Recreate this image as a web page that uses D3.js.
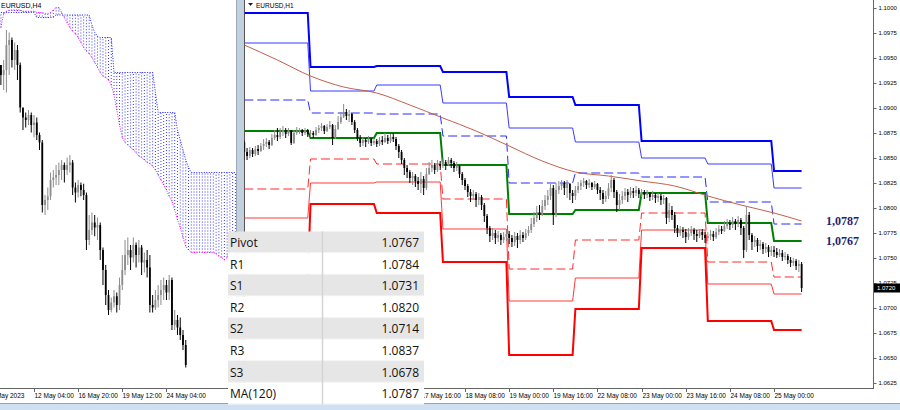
<!DOCTYPE html>
<html>
<head>
<meta charset="utf-8">
<script src="https://cdn.jsdelivr.net/npm/d3@7"></script>
<style>
body { margin: 0; background: #fff; }
svg { display: block; }
</style>
</head>
<body>
<script>
// ---------- H1 chart (right) ----------
var priceTicks = [1.1000, 1.0975, 1.0950, 1.0925, 1.0900, 1.0875, 1.0850, 1.0825,
    1.0800, 1.0775, 1.0750, 1.0725, 1.0700, 1.0675, 1.0650, 1.0625];
var h1TickBars = [64, 80, 96, 112, 128, 144, 160, 176, 192];
var h1TickLabels = ['17 May 16:00', '18 May 08:00', '19 May 00:00', '19 May 16:00', '22 May 08:00',
    '23 May 00:00', '23 May 16:00', '24 May 08:00', '25 May 00:00'];

var h1FirstOpen = 1.0866;
var h1Close = [
    1.0856, 1.0852, 1.0858, 1.0854, 1.0859, 1.0857, 1.0862, 1.0864, 1.0866, 1.0863, 1.0870, 1.0873, 1.0871, 1.0876, 1.0878, 1.0874, 1.0877, 1.0865, 1.0875, 1.0877, 1.0878, 1.0875, 1.0878, 1.0874,
    1.0875, 1.0873, 1.0878, 1.0880, 1.0882, 1.0877, 1.0881, 1.0883, 1.0870, 1.0879, 1.0886, 1.0891, 1.0896, 1.0892, 1.0894, 1.0886, 1.0878, 1.0870, 1.0865, 1.0868, 1.0866, 1.0869, 1.0865, 1.0867,
    1.0864, 1.0868, 1.0866, 1.0870, 1.0867, 1.0871, 1.0869, 1.0862, 1.0856, 1.0848, 1.0840, 1.0836, 1.0830, 1.0832, 1.0827, 1.0824, 1.0829, 1.0820, 1.0834, 1.0840, 1.0843, 1.0838, 1.0844, 1.0842,
    1.0846, 1.0843, 1.0848, 1.0845, 1.0840, 1.0842, 1.0834, 1.0828, 1.0822, 1.0816, 1.0812, 1.0814, 1.0808, 1.0811, 1.0803, 1.0792, 1.0780, 1.0772, 1.0775, 1.0770, 1.0773, 1.0768, 1.0771, 1.0774,
    1.0770, 1.0766, 1.0772, 1.0768, 1.0773, 1.0770, 1.0775, 1.0778, 1.0784, 1.0790, 1.0796, 1.0793, 1.0802, 1.0808, 1.0812, 1.0820, 1.0793, 1.0818, 1.0822, 1.0825, 1.0820, 1.0824, 1.0815, 1.0812,
    1.0818, 1.0822, 1.0825, 1.0827, 1.0823, 1.0825, 1.0821, 1.0824, 1.0818, 1.0815, 1.0809, 1.0812, 1.0820, 1.0828, 1.0816, 1.0803, 1.0808, 1.0812, 1.0816, 1.0813, 1.0817, 1.0815, 1.0818, 1.0814,
    1.0816, 1.0813, 1.0815, 1.0811, 1.0813, 1.0810, 1.0812, 1.0808, 1.0810, 1.0790, 1.0798, 1.0793, 1.0780, 1.0775, 1.0778, 1.0776, 1.0771, 1.0775, 1.0778, 1.0774, 1.0772, 1.0776, 1.0773, 1.0770,
    1.0772, 1.0774, 1.0771, 1.0776, 1.0779, 1.0777, 1.0782, 1.0785, 1.0783, 1.0787, 1.0784, 1.0788, 1.0780, 1.0758, 1.0793, 1.0773, 1.0766, 1.0768, 1.0762, 1.0764, 1.0759, 1.0761, 1.0756, 1.0758,
    1.0756, 1.0753, 1.0755, 1.0751, 1.0752, 1.0748, 1.0745, 1.0747, 1.0742, 1.0744, 1.0720
];
var h1High = [
    1.0868, 1.0860, 1.0861, 1.0860, 1.0862, 1.0863, 1.0865, 1.0869, 1.0870, 1.0868, 1.0874, 1.0878, 1.0880, 1.0880, 1.0882, 1.0880, 1.0880, 1.0878, 1.0878, 1.0881, 1.0880, 1.0879, 1.0880, 1.0879,
    1.0878, 1.0877, 1.0881, 1.0883, 1.0885, 1.0883, 1.0884, 1.0887, 1.0884, 1.0883, 1.0892, 1.0896, 1.0904, 1.0899, 1.0898, 1.0895, 1.0888, 1.0880, 1.0873, 1.0871, 1.0870, 1.0872, 1.0870, 1.0870,
    1.0869, 1.0871, 1.0872, 1.0875, 1.0873, 1.0874, 1.0875, 1.0871, 1.0864, 1.0858, 1.0850, 1.0843, 1.0838, 1.0836, 1.0834, 1.0831, 1.0836, 1.0832, 1.0840, 1.0846, 1.0848, 1.0845, 1.0848, 1.0847,
    1.0850, 1.0848, 1.0851, 1.0850, 1.0847, 1.0846, 1.0843, 1.0836, 1.0830, 1.0824, 1.0819, 1.0818, 1.0816, 1.0815, 1.0813, 1.0805, 1.0794, 1.0782, 1.0780, 1.0778, 1.0777, 1.0775, 1.0776, 1.0778,
    1.0777, 1.0773, 1.0776, 1.0775, 1.0778, 1.0776, 1.0779, 1.0782, 1.0790, 1.0796, 1.0802, 1.0803, 1.0808, 1.0813, 1.0818, 1.0824, 1.0823, 1.0825, 1.0827, 1.0828, 1.0827, 1.0828, 1.0825, 1.0818,
    1.0822, 1.0826, 1.0828, 1.0830, 1.0828, 1.0829, 1.0826, 1.0827, 1.0825, 1.0821, 1.0818, 1.0817, 1.0825, 1.0833, 1.0830, 1.0818, 1.0814, 1.0817, 1.0820, 1.0819, 1.0821, 1.0820, 1.0822, 1.0820,
    1.0819, 1.0818, 1.0818, 1.0816, 1.0817, 1.0815, 1.0815, 1.0814, 1.0813, 1.0811, 1.0805, 1.0802, 1.0796, 1.0783, 1.0782, 1.0781, 1.0779, 1.0780, 1.0782, 1.0780, 1.0778, 1.0779, 1.0779, 1.0776,
    1.0776, 1.0778, 1.0777, 1.0780, 1.0783, 1.0782, 1.0787, 1.0789, 1.0788, 1.0791, 1.0789, 1.0792, 1.0790, 1.0782, 1.0802, 1.0796, 1.0775, 1.0772, 1.0770, 1.0768, 1.0766, 1.0765, 1.0763, 1.0762,
    1.0762, 1.0760, 1.0759, 1.0758, 1.0756, 1.0754, 1.0751, 1.0750, 1.0749, 1.0748, 1.0746
];
var h1Low = [
    1.0848, 1.0848, 1.0850, 1.0851, 1.0852, 1.0853, 1.0856, 1.0858, 1.0861, 1.0859, 1.0862, 1.0868, 1.0867, 1.0869, 1.0872, 1.0870, 1.0872, 1.0863, 1.0864, 1.0873, 1.0874, 1.0872, 1.0873, 1.0871,
    1.0871, 1.0870, 1.0872, 1.0875, 1.0877, 1.0874, 1.0876, 1.0879, 1.0863, 1.0869, 1.0878, 1.0884, 1.0890, 1.0888, 1.0886, 1.0883, 1.0875, 1.0867, 1.0861, 1.0862, 1.0861, 1.0864, 1.0862, 1.0863,
    1.0861, 1.0862, 1.0863, 1.0865, 1.0864, 1.0865, 1.0866, 1.0858, 1.0850, 1.0844, 1.0833, 1.0830, 1.0825, 1.0823, 1.0821, 1.0818, 1.0815, 1.0813, 1.0818, 1.0833, 1.0836, 1.0834, 1.0836, 1.0838,
    1.0840, 1.0838, 1.0842, 1.0840, 1.0836, 1.0837, 1.0830, 1.0823, 1.0818, 1.0811, 1.0806, 1.0808, 1.0801, 1.0803, 1.0798, 1.0786, 1.0774, 1.0766, 1.0768, 1.0764, 1.0766, 1.0763, 1.0765, 1.0767,
    1.0764, 1.0761, 1.0762, 1.0760, 1.0764, 1.0766, 1.0768, 1.0772, 1.0775, 1.0781, 1.0786, 1.0788, 1.0792, 1.0798, 1.0803, 1.0808, 1.0783, 1.0791, 1.0814, 1.0818, 1.0813, 1.0810, 1.0808, 1.0805,
    1.0808, 1.0815, 1.0818, 1.0821, 1.0819, 1.0820, 1.0818, 1.0819, 1.0814, 1.0808, 1.0804, 1.0806, 1.0809, 1.0816, 1.0810, 1.0796, 1.0798, 1.0804, 1.0808, 1.0806, 1.0810, 1.0810, 1.0812, 1.0810,
    1.0811, 1.0809, 1.0810, 1.0807, 1.0808, 1.0805, 1.0806, 1.0803, 1.0804, 1.0784, 1.0786, 1.0788, 1.0775, 1.0771, 1.0772, 1.0770, 1.0765, 1.0768, 1.0772, 1.0768, 1.0766, 1.0770, 1.0768, 1.0765,
    1.0767, 1.0768, 1.0767, 1.0769, 1.0773, 1.0774, 1.0776, 1.0779, 1.0778, 1.0780, 1.0778, 1.0781, 1.0773, 1.0750, 1.0756, 1.0768, 1.0758, 1.0761, 1.0756, 1.0758, 1.0754, 1.0755, 1.0751, 1.0752,
    1.0751, 1.0750, 1.0751, 1.0747, 1.0748, 1.0744, 1.0741, 1.0742, 1.0738, 1.0736, 1.0716
];

// daily pivot levels, one value per trading day (15,16,17,18,19,22,23,24,25 May)
var dayStartBars = [0, 24, 48, 72, 96, 120, 144, 168, 192];
var r3 = [1.0995, 1.0941, 1.0942, 1.0936, 1.0911, 1.0903, 1.0867, 1.0867, 1.0837];
var r2 = [1.0965, 1.0917, 1.0923, 1.0905, 1.0880, 1.0866, 1.0850, 1.0844, 1.0820];
var r1 = [1.0908, 1.0895, 1.0894, 1.0872, 1.0825, 1.0835, 1.0831, 1.0806, 1.0784];
var pivot = [1.0877, 1.0870, 1.0875, 1.0843, 1.0794, 1.0798, 1.0815, 1.0785, 1.0767];
var s1 = [1.0819, 1.0849, 1.0844, 1.0809, 1.0739, 1.0768, 1.0795, 1.0746, 1.0731];
var s2 = [1.0790, 1.0825, 1.0826, 1.0779, 1.0707, 1.0730, 1.0778, 1.0724, 1.0714];
var s3 = [1.0730, 1.0804, 1.0795, 1.0746, 1.0653, 1.0699, 1.0760, 1.0687, 1.0678];

// MA(120) read every 12 bars
var maBars = [0, 12, 24, 36, 48, 60, 72, 84, 96, 108, 120, 132, 144, 156, 168, 180, 192, 202];
var maValues = [1.0963, 1.0948, 1.0932, 1.0921, 1.0915, 1.0903, 1.0890, 1.0877, 1.0862, 1.0847,
    1.0836, 1.0832, 1.0827, 1.0822, 1.0812, 1.0803, 1.0795, 1.0787];

// ---------- H4 chart (left) ----------
var h4TickBars = [-4, 12, 28, 44, 60];
var h4TickLabels = ['9 May 2023', '12 May 04:00', '16 May 20:00', '19 May 12:00', '24 May 04:00'];
var h4FirstOpen = 1.0960;
var h4Close = [1.0952, 1.0956, 1.0976, 1.0980, 1.0964, 1.0972, 1.0960, 1.0926, 1.0918, 1.0916,
    1.0920, 1.0912, 1.0914, 1.0904, 1.0898, 1.0848, 1.0852, 1.0855, 1.0868, 1.0870,
    1.0872, 1.0876, 1.0880, 1.0876, 1.0880, 1.0882, 1.0862, 1.0858, 1.0864, 1.0860,
    1.0856, 1.0820, 1.0828, 1.0834, 1.0830, 1.0832, 1.0812, 1.0796, 1.0776, 1.0764,
    1.0770, 1.0775, 1.0768, 1.0784, 1.0796, 1.0808, 1.0812, 1.0806, 1.0816, 1.0808,
    1.0814, 1.0802, 1.0804, 1.0798, 1.0768, 1.0766, 1.0772, 1.0776, 1.0780, 1.0784,
    1.0778, 1.0788, 1.0752, 1.0756, 1.0750, 1.0744, 1.0736, 1.0720];
var h4High = [1.0960, 1.0964, 1.0988, 1.0986, 1.0982, 1.0978, 1.0976, 1.0962, 1.0924, 1.0922,
    1.0924, 1.0922, 1.0920, 1.0918, 1.0906, 1.0900, 1.0856, 1.0862, 1.0874, 1.0876,
    1.0880, 1.0882, 1.0884, 1.0882, 1.0886, 1.0888, 1.0884, 1.0866, 1.0868, 1.0866,
    1.0865, 1.0858, 1.0840, 1.0842, 1.0840, 1.0838, 1.0834, 1.0814, 1.0800, 1.0780,
    1.0774, 1.0780, 1.0778, 1.0790, 1.0808, 1.0820, 1.0822, 1.0816, 1.0822, 1.0818,
    1.0820, 1.0816, 1.0810, 1.0812, 1.0808, 1.0776, 1.0780, 1.0784, 1.0788, 1.0790,
    1.0788, 1.0792, 1.0790, 1.0764, 1.0760, 1.0758, 1.0748, 1.0740];
var h4Low = [1.0944, 1.0940, 1.0938, 1.0952, 1.0958, 1.0956, 1.0948, 1.0922, 1.0908, 1.0910,
    1.0912, 1.0906, 1.0902, 1.0900, 1.0892, 1.0842, 1.0840, 1.0844, 1.0852, 1.0862,
    1.0864, 1.0864, 1.0868, 1.0866, 1.0872, 1.0874, 1.0856, 1.0850, 1.0854, 1.0855,
    1.0852, 1.0812, 1.0816, 1.0824, 1.0823, 1.0820, 1.0804, 1.0784, 1.0768, 1.0760,
    1.0762, 1.0766, 1.0762, 1.0764, 1.0780, 1.0792, 1.0800, 1.0796, 1.0802, 1.0798,
    1.0802, 1.0792, 1.0794, 1.0790, 1.0762, 1.0762, 1.0764, 1.0766, 1.0768, 1.0772,
    1.0772, 1.0772, 1.0748, 1.0748, 1.0744, 1.0740, 1.0732, 1.0718];

// Ichimoku cloud spans (shifted 26 bars ahead)
var spanA = [1.0990, 1.1001, 1.1003, 1.1004, 1.1004, 1.1004, 1.1004, 1.1004, 1.1003, 1.1003,
    1.1003, 1.1003, 1.1003, 1.1002, 1.1002, 1.1002, 1.1001, 1.1001, 1.1002, 1.1004,
    1.1006, 1.1006, 1.1002, 1.0998, 1.0994, 1.0990, 1.0987, 1.0985, 1.0982, 1.0978,
    1.0974, 1.0971, 1.0969, 1.0966, 1.0962, 1.0958, 1.0954, 1.0951, 1.0950, 1.0948,
    1.0944, 1.0936, 1.0924, 1.0912, 1.0902, 1.0898, 1.0896, 1.0894, 1.0892, 1.0890,
    1.0887, 1.0886, 1.0884, 1.0882, 1.0881, 1.0879, 1.0876, 1.0872, 1.0868, 1.0864,
    1.0860, 1.0855, 1.0851, 1.0844, 1.0836, 1.0830, 1.0822, 1.0815, 1.0812, 1.0810,
    1.0810, 1.0810, 1.0810, 1.0810, 1.0810, 1.0810, 1.0810, 1.0810, 1.0809, 1.0807,
    1.0806, 1.0804, 1.0806, 1.0814, 1.0820, 1.0824];
var spanB = [1.1002, 1.1002, 1.1002, 1.1002, 1.1002, 1.1002, 1.1002, 1.1002, 1.1002, 1.1002,
    1.1002, 1.1002, 1.1002, 1.0998, 1.0998, 1.0998, 1.0998, 1.0998, 1.0998, 1.0998,
    1.1000, 1.1000, 1.1000, 1.1000, 1.1000, 1.1000, 1.1000, 1.1000, 1.1000, 1.1000,
    1.1000, 1.1000, 1.1000, 1.0992, 1.0986, 1.0983, 1.0982, 1.0982, 1.0982, 1.0982,
    1.0982, 1.0954, 1.0954, 1.0954, 1.0954, 1.0954, 1.0954, 1.0954, 1.0954, 1.0954,
    1.0954, 1.0954, 1.0954, 1.0954, 1.0954, 1.0954, 1.0938, 1.0922, 1.0922, 1.0922,
    1.0922, 1.0922, 1.0922, 1.0922, 1.0908, 1.0900, 1.0892, 1.0884, 1.0878, 1.0874,
    1.0874, 1.0874, 1.0874, 1.0874, 1.0874, 1.0874, 1.0874, 1.0874, 1.0874, 1.0874,
    1.0874, 1.0874, 1.0874, 1.0874, 1.0874, 1.0874];

// ---------- table ----------
var tableLabels = ['Pivot', 'R1', 'S1', 'R2', 'S2', 'R3', 'S3', 'MA(120)'];
var tableValues = ['1.0767', '1.0784', '1.0731', '1.0820', '1.0714', '1.0837', '1.0678', '1.0787'];
var sideLabels = ['1,0787', '1,0767'];
var sideValues = [1.0787, 1.0767];
var lastPrice = 1.0720;

var width = 900;
var height = 410;
var axisY = 388;

var svg = d3.select('body')
    .append('svg')
    .attr('width', width)
    .attr('height', height)
    .style('font-family', '"Liberation Sans", Arial, sans-serif');

var defs = svg.append('defs');
defs.append('clipPath').attr('id', 'clipL')
    .append('rect').attr('x', 0).attr('y', 0).attr('width', 236).attr('height', axisY);
defs.append('clipPath').attr('id', 'clipR')
    .append('rect').attr('x', 244.5).attr('y', 0).attr('width', 628).attr('height', axisY);

// scales
var barW = 2.759;
var xR = d3.scaleLinear().domain([0, 1]).range([244.3, 244.3 + barW]);
var yR = d3.scaleLinear().domain([1.0625, 1.1000]).range([383, 8]);
var xL = d3.scaleLinear().domain([0, 1]).range([0.9, 0.9 + barW]);
var yL = d3.scaleLinear().domain([1.0700, 1.1000]).range([390, 15]);

function makeBars(firstOpen, closes, highs, lows) {
    return closes.map(function (c, i) {
        return {
            i: i,
            o: i === 0 ? firstOpen : closes[i - 1],
            c: c,
            h: highs[i],
            l: lows[i]
        };
    });
}

function drawCandles(g, bars, x, y) {
    var col = function (d) {
        return d.c >= d.o ? '#8c8c8c' : '#000';
    };
    g.selectAll('line.wick')
        .data(bars)
        .enter()
        .append('line')
        .attr('class', 'wick')
        .attr('x1', function (d) { return x(d.i); })
        .attr('x2', function (d) { return x(d.i); })
        .attr('y1', function (d) { return y(d.h); })
        .attr('y2', function (d) { return y(d.l); })
        .attr('stroke', col)
        .attr('stroke-width', 1);
    g.selectAll('rect.body')
        .data(bars)
        .enter()
        .append('rect')
        .attr('class', 'body')
        .attr('x', function (d) { return x(d.i) - 0.9; })
        .attr('width', 1.8)
        .attr('y', function (d) { return y(Math.max(d.o, d.c)); })
        .attr('height', function (d) { return Math.max(1, Math.abs(y(d.o) - y(d.c))); })
        .attr('fill', col);
}

// ================= LEFT (H4) =================
var gL = svg.append('g').attr('clip-path', 'url(#clipL)');

// cloud: dotted columns between the spans
gL.selectAll('line.cloud')
    .data(spanA)
    .enter()
    .append('line')
    .attr('x1', function (d, i) { return xL(i); })
    .attr('x2', function (d, i) { return xL(i); })
    .attr('y1', function (d) { return yL(d); })
    .attr('y2', function (d, i) { return yL(spanB[i]); })
    .attr('stroke', '#3a3aff')
    .attr('stroke-width', 1)
    .attr('stroke-dasharray', '1,2');

gL.append('path')
    .datum(spanB)
    .attr('d', d3.line().x(function (d, i) { return xL(i); }).y(function (d) { return yL(d); }))
    .attr('fill', 'none')
    .attr('stroke', '#2222ff')
    .attr('stroke-dasharray', '1,1.5');

gL.append('path')
    .datum(spanA)
    .attr('d', d3.line().x(function (d, i) { return xL(i); }).y(function (d) { return yL(d); }))
    .attr('fill', 'none')
    .attr('stroke', '#ff00ff')
    .attr('stroke-dasharray', '1,1.5');

drawCandles(gL, makeBars(h4FirstOpen, h4Close, h4High, h4Low), xL, yL);

svg.append('text')
    .attr('x', 1).attr('y', 8)
    .attr('font-size', 7).attr('fill', '#000')
    .text('EURUSD,H4');

// left time axis
svg.append('line')
    .attr('x1', 0).attr('x2', 236).attr('y1', axisY + 0.5).attr('y2', axisY + 0.5)
    .attr('stroke', '#666');
var tL = svg.append('g').selectAll('g')
    .data(h4TickBars)
    .enter()
    .append('g')
    .attr('transform', function (d) { return 'translate(' + Math.round(xL(d)) + ',' + axisY + ')'; });
tL.append('line').attr('x1', 0.5).attr('x2', 0.5).attr('y1', 0).attr('y2', 4).attr('stroke', '#666');
tL.append('text')
    .attr('x', 0.5).attr('y', 10)
    .attr('font-size', 6.5).attr('fill', '#000')
    .text(function (d, i) { return h4TickLabels[i]; });

// splitter
svg.append('rect').attr('x', 236).attr('y', 0).attr('width', 8).attr('height', 403).attr('fill', '#c3d0de');
svg.append('line').attr('x1', 236.5).attr('x2', 236.5).attr('y1', 0).attr('y2', 403).attr('stroke', '#9aa8b8');
svg.append('line').attr('x1', 244.5).attr('x2', 244.5).attr('y1', 0).attr('y2', axisY).attr('stroke', '#555');

// ================= RIGHT (H1) =================
var gR = svg.append('g').attr('clip-path', 'url(#clipR)');
var lastBar = h1Close.length - 1;

var levels = [
    { v: r3, color: '#0000ff', w: 2, dash: null },
    { v: r2, color: '#3a3aff', w: 1, dash: null },
    { v: r1, color: '#2a2aff', w: 1, dash: '9,4' },
    { v: pivot, color: '#008000', w: 2, dash: null },
    { v: s1, color: '#ff2a2a', w: 1, dash: '9,4' },
    { v: s2, color: '#ff3a3a', w: 1, dash: null },
    { v: s3, color: '#ff0000', w: 2, dash: null }
];

var stepLine = d3.line()
    .x(function (d) { return xR(d[0]); })
    .y(function (d) { return yR(d[1]); });

levels.forEach(function (lv) {
    var pts = [];
    lv.v.forEach(function (val, k) {
        var start = dayStartBars[k];
        var end = k < dayStartBars.length - 1 ? dayStartBars[k + 1] - 1 : lastBar;
        pts.push([start, val], [end, val]);
    });
    gR.append('path')
        .datum(pts)
        .attr('d', stepLine)
        .attr('fill', 'none')
        .attr('stroke', lv.color)
        .attr('stroke-width', lv.w)
        .attr('stroke-dasharray', lv.dash);
});

// MA(120)
gR.append('path')
    .datum(maBars.map(function (b, i) { return [b, maValues[i]]; }))
    .attr('d', d3.line()
        .x(function (d) { return xR(d[0]); })
        .y(function (d) { return yR(d[1]); })
        .curve(d3.curveMonotoneX))
    .attr('fill', 'none')
    .attr('stroke', '#c2604c')
    .attr('stroke-width', 1);

drawCandles(gR, makeBars(h1FirstOpen, h1Close, h1High, h1Low), xR, yR);

// title with small triangle
svg.append('path').attr('d', 'M248,3 L253,3 L250.5,6 Z').attr('fill', '#222');
svg.append('text')
    .attr('x', 256).attr('y', 7.5)
    .attr('font-size', 6.5).attr('fill', '#000')
    .text('EURUSD,H1');

// price axis
svg.append('line')
    .attr('x1', 873.5).attr('x2', 873.5).attr('y1', 0).attr('y2', axisY)
    .attr('stroke', '#666');
var pAxis = svg.append('g')
    .attr('transform', 'translate(873.5,0)')
    .call(d3.axisRight(yR)
        .tickValues(priceTicks)
        .tickFormat(d3.format('.4f'))
        .tickSize(3)
        .tickPadding(2));
pAxis.select('.domain').remove();
pAxis.selectAll('line').attr('stroke', '#666');
pAxis.selectAll('text').attr('font-size', 6).attr('fill', '#000').attr('font-family', '"Liberation Sans", Arial, sans-serif');

// last price marker
svg.append('rect')
    .attr('x', 874).attr('y', yR(lastPrice) - 4.5)
    .attr('width', 26).attr('height', 9)
    .attr('fill', '#000');
svg.append('text')
    .attr('x', 877).attr('y', yR(lastPrice) + 2.2)
    .attr('font-size', 6).attr('fill', '#fff')
    .text(d3.format('.4f')(lastPrice));

// time axis
svg.append('line')
    .attr('x1', 244).attr('x2', 874).attr('y1', axisY + 0.5).attr('y2', axisY + 0.5)
    .attr('stroke', '#666');
var tR = svg.append('g').selectAll('g')
    .data(h1TickBars)
    .enter()
    .append('g')
    .attr('transform', function (d) { return 'translate(' + Math.round(xR(d)) + ',' + axisY + ')'; });
tR.append('line').attr('x1', 0.5).attr('x2', 0.5).attr('y1', 0).attr('y2', 4).attr('stroke', '#666');
tR.append('text')
    .attr('x', 0.5).attr('y', 10)
    .attr('font-size', 6.5).attr('fill', '#000')
    .text(function (d, i) { return h1TickLabels[i]; });

// big value labels
svg.selectAll('text.side')
    .data(sideValues)
    .enter()
    .append('text')
    .attr('class', 'side')
    .attr('x', 826)
    .attr('y', function (d) { return yR(d) + 4; })
    .attr('font-family', '"Liberation Serif", "Times New Roman", serif')
    .attr('font-weight', 'bold')
    .attr('font-size', 12)
    .attr('fill', '#1f1f70')
    .text(function (d, i) { return sideLabels[i]; });

// bottom strip
svg.append('rect').attr('x', 0).attr('y', 403).attr('width', width).attr('height', 7).attr('fill', '#cfe0f2');
svg.append('line').attr('x1', 0).attr('x2', width).attr('y1', 403.5).attr('y2', 403.5).attr('stroke', '#7eaad6');

// ================= TABLE =================
var rowH = 21.6;
var tbl = svg.append('g').attr('transform', 'translate(228,231.5)');
var rows = tbl.selectAll('g.row')
    .data(tableLabels)
    .enter()
    .append('g')
    .attr('transform', function (d, i) { return 'translate(0,' + (i * rowH) + ')'; });
rows.append('rect')
    .attr('width', 196)
    .attr('height', rowH)
    .attr('fill', function (d, i) { return i % 2 === 0 ? '#e6e6e6' : '#fff'; });
rows.append('line')
    .attr('x1', 0).attr('x2', 196).attr('y1', rowH - 0.5).attr('y2', rowH - 0.5)
    .attr('stroke', '#f4f4f4');
rows.append('text')
    .attr('x', 2).attr('y', 15.5)
    .attr('font-family', '"Open Sans", "Liberation Sans", sans-serif')
    .attr('font-size', 12).attr('fill', '#111')
    .text(function (d) { return d; });
rows.append('text')
    .attr('x', 191).attr('y', 15.5)
    .attr('text-anchor', 'end')
    .attr('font-family', '"Open Sans", "Liberation Sans", sans-serif')
    .attr('font-size', 12).attr('fill', '#111')
    .text(function (d, i) { return tableValues[i]; });
tbl.append('line')
    .attr('x1', 94.5).attr('x2', 94.5).attr('y1', 0).attr('y2', rowH * tableLabels.length)
    .attr('stroke', '#d4d4d4').attr('stroke-width', 1.5);
</script>
</body>
</html>
